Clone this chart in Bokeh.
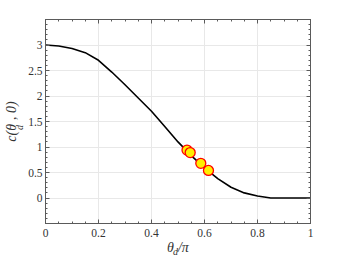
import math
from bokeh.plotting import figure
from bokeh.models import (Range1d, LinearAxis, SingleIntervalTicker, Label,
                          CustomLabelingPolicy)
from bokeh.embed import file_html
from bokeh.resources import INLINE

# curve c(theta_d, 0) vs theta_d/pi
theta = [0.0, 0.05, 0.10, 0.15, 0.20, 0.25, 0.30, 0.35, 0.40, 0.45, 0.50,
         0.55, 0.60, 0.65, 0.70, 0.75, 0.80, 0.85, 0.90, 0.95, 1.0]
cval = [3.0, 2.98, 2.93, 2.85, 2.70, 2.47, 2.22, 1.96, 1.70, 1.40, 1.10,
        0.83, 0.59, 0.38, 0.21, 0.10, 0.04, 0.0, 0.0, 0.0, 0.0]

# highlighted points
pt_x = [0.534, 0.546, 0.586, 0.615]
pt_y = [0.94, 0.89, 0.68, 0.54]

FONT = "'Liberation Serif'"
GRID = "#e8e8e8"
AX = "#5a5a5a"
TXT = "#333333"

p = figure(width=343, height=257, output_backend="svg", toolbar_location=None,
           x_range=Range1d(0, 1), y_range=Range1d(-0.5, 3.5),
           min_border_left=44, min_border_right=33, min_border_top=19,
           min_border_bottom=33)
p.outline_line_color = AX
p.background_fill_color = "white"
p.border_fill_color = "white"

xt = SingleIntervalTicker(interval=0.2, num_minor_ticks=4)
yt = SingleIntervalTicker(interval=0.5, num_minor_ticks=5)
p.xaxis.ticker = xt
p.yaxis.ticker = yt
p.xgrid.ticker = xt
p.ygrid.ticker = yt
p.xgrid.grid_line_color = GRID
p.ygrid.grid_line_color = GRID

for ax in (p.xaxis[0], p.yaxis[0]):
    ax.major_tick_in = 4
    ax.major_tick_out = 0
    ax.minor_tick_in = 2
    ax.minor_tick_out = 0
    ax.axis_line_color = AX
    ax.major_tick_line_color = AX
    ax.minor_tick_line_color = AX
    ax.major_label_text_font = FONT
    ax.major_label_text_font_size = "11.5px"
    ax.major_label_text_color = TXT
    ax.axis_label_text_font = FONT
    ax.axis_label_text_font_size = "14px"
    ax.axis_label_text_font_style = "italic"
    ax.axis_label_text_color = TXT
p.xaxis.major_label_standoff = 5
p.yaxis.major_label_standoff = 3
p.xaxis.axis_label_standoff = 0
p.yaxis.axis_label_standoff = 0
p.xaxis.major_label_overrides = {0: "0", 1: "1"}
p.yaxis.major_label_overrides = {0: "0", 1: "1", 2: "2", 3: "3"}
# no labels at the range ends of the y axis (-0.5 and 3.5)
p.yaxis.major_label_policy = CustomLabelingPolicy(
    code="const n = indices.size\nif (n > 1) { indices.unset(0); indices.unset(n - 1) }\nreturn indices")
p.xaxis.axis_label = "θ\u2009\u200a/π"
p.yaxis.axis_label = "c(θ\u2009\u200a, 0)"

no_labels = CustomLabelingPolicy(
    code="for (const i of indices) indices.unset(i)\nreturn indices")

# mirrored axes (box ticks)
top = LinearAxis(ticker=xt, major_label_policy=no_labels)
right = LinearAxis(ticker=yt, major_label_policy=no_labels)
for ax in (top, right):
    ax.major_tick_in = 4
    ax.major_tick_out = 0
    ax.minor_tick_in = 2
    ax.minor_tick_out = 0
    ax.axis_line_color = AX
    ax.major_tick_line_color = AX
    ax.minor_tick_line_color = AX
    ax.major_label_standoff = 0
p.add_layout(top, "above")
p.add_layout(right, "right")

p.line(theta, cval, line_color="black", line_width=1.6)
p.scatter(pt_x, pt_y, size=10, fill_color="#ffee00", line_color="red",
          line_width=1.3)

# subscripts "d" of the two axis titles
sub = dict(x_units="screen", y_units="screen", text_font=FONT,
           text_font_style="italic", text_color=TXT, text_font_size="10px",
           text_baseline="middle", text_align="center")
p.add_layout(Label(x=-160, y=-28, text="d", **sub), "right")
p.add_layout(Label(x=-26, y=-119, text="d", angle=math.pi / 2, **sub), "above")

open("out.html", "w").write(file_html(p, INLINE))
